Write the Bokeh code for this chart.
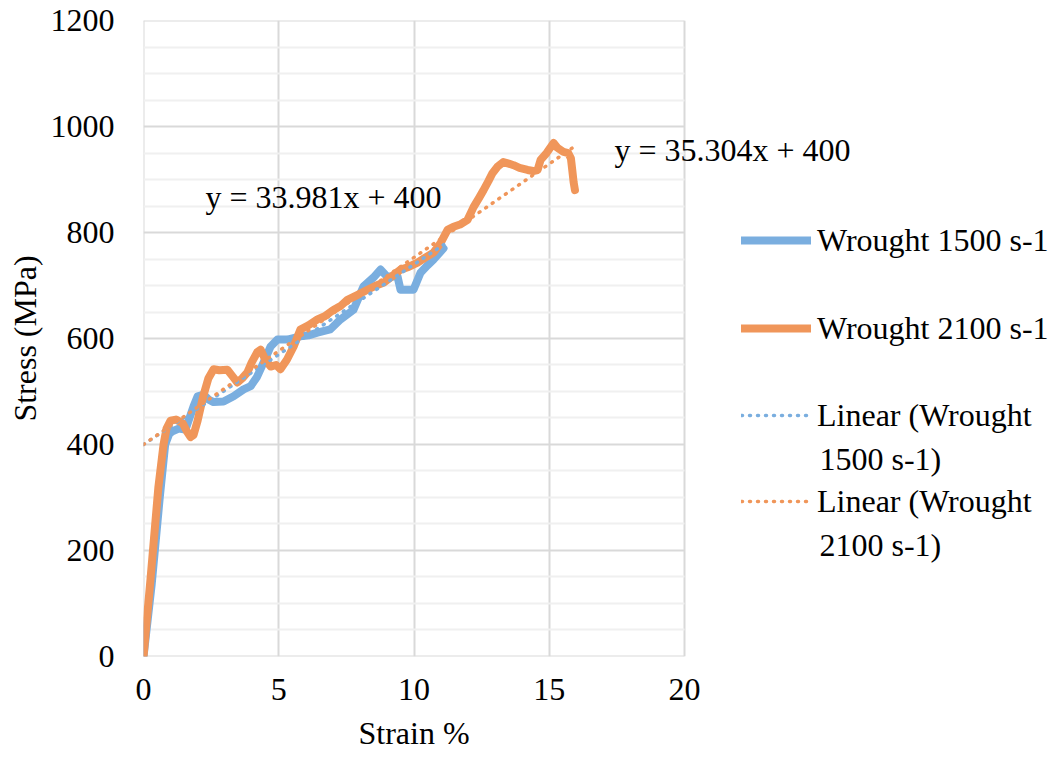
from bokeh.plotting import figure
from bokeh.models import (Range1d, FixedTicker, Legend, LegendItem, Label, Title)
from bokeh.embed import file_html
from bokeh.resources import INLINE

# ---- data -------------------------------------------------------------
strain_1500 = [0, 0.3, 0.6, 0.8, 0.95, 1.07, 1.3, 1.55, 1.7, 1.85, 2.0, 2.22,
               2.4, 2.59, 2.96, 3.33, 3.7, 3.96, 4.2, 4.44, 4.7, 4.95, 5.32,
               5.8, 6.1, 6.43, 6.9, 7.28, 7.76, 8.13, 8.5, 8.76, 9.0, 9.39,
               9.5, 9.98, 10.24, 10.5, 10.72, 11.09]
stress_1500 = [0, 135, 300, 400, 420, 425, 430, 428, 450, 472, 491, 494,
               485, 480, 481, 491, 504, 510, 528, 555, 585, 598, 598,
               604, 606, 611, 617, 636, 654, 698, 715, 730, 717, 717,
               692, 692, 724, 738, 749, 770]

strain_2100 = [0, 0.26, 0.55, 0.74, 0.85, 1.0, 1.2, 1.45, 1.6, 1.74, 1.85, 2.0,
               2.2, 2.4, 2.59, 2.8, 3.1, 3.3, 3.47, 3.65, 3.84, 4.0, 4.2, 4.33,
               4.5, 4.7, 4.9, 5.06, 5.3, 5.55, 5.8, 6.1, 6.43, 6.7, 7.02, 7.3,
               7.54, 7.9, 8.28, 8.6, 8.87, 9.2, 9.5, 9.8, 10.13, 10.4, 10.72,
               10.98, 11.24, 11.46, 11.7, 11.98, 12.2, 12.4, 12.57, 12.75, 12.9,
               13.1, 13.3, 13.5, 13.68, 13.9, 14.2, 14.4, 14.57, 14.68, 14.9,
               15.16, 15.3, 15.53, 15.7, 15.8, 15.85, 15.9, 15.95]
stress_2100 = [0, 147, 320, 400, 430, 445, 447, 440, 425, 414, 418, 445,
               490, 525, 542, 540, 541, 528, 517, 525, 536, 555, 574, 579,
               560, 547, 550, 542, 560, 585, 617, 625, 636, 642, 654, 662,
               673, 682, 692, 700, 705, 718, 730, 735, 743, 752, 762,
               780, 805, 811, 815, 824, 848, 865, 880, 897, 912,
               925, 933, 930, 927, 922, 918, 916, 918, 937, 950,
               969, 960, 952, 950, 940, 918, 895, 880]

# linear trend fits (slope, intercept) as printed on the chart
fit_1500 = (33.981, 400)
fit_2100 = (35.304, 400)
fit_range_1500 = (0, 11.1)
fit_range_2100 = (0, 16.0)

x_ticks = [0, 5, 10, 15, 20]
y_ticks = [0, 200, 400, 600, 800, 1000, 1200]
y_minor = [v for v in range(0, 1201, 50) if v % 200]

# ---- styling ----------------------------------------------------------
BLUE = "#7AAEDF"
ORANGE = "#F0965A"
FONT = "Liberation Serif"
FS = "32px"
MAJOR = "#D9D9D9"
MINOR = "#F0F0F0"

W, H = 1057, 761
LEFT, RIGHT, TOP, BOTTOM = 143, 684, 20, 658
X_MAX, Y_MAX = x_ticks[-1], y_ticks[-1]
# the frame runs to the right edge so the legend and labels stay inside it;
# the axes and grid stop at X_MAX
X_END = X_MAX * (W - LEFT) / (RIGHT - LEFT)
EPS = 1e-3

p = figure(width=W, height=H, output_backend="svg", toolbar_location=None,
           x_range=Range1d(-EPS, X_END), y_range=Range1d(-EPS * 100, Y_MAX + EPS * 100),
           min_border_left=LEFT, min_border_right=0,
           min_border_top=TOP, min_border_bottom=H - BOTTOM)
p.background_fill_color = "white"
p.border_fill_color = "white"
p.outline_line_color = None

p.xaxis.ticker = FixedTicker(ticks=x_ticks)
p.yaxis.ticker = FixedTicker(ticks=y_ticks, minor_ticks=y_minor)
p.xgrid.grid_line_color = MAJOR
p.xgrid.grid_line_width = 2
p.xgrid.minor_grid_line_color = None

manual_hgrid = False
try:
    p.ygrid.cross_bounds = (0, X_MAX)
except AttributeError:
    manual_hgrid = True

if manual_hgrid:
    p.ygrid.visible = False
    p.segment(x0=[0] * len(y_minor), x1=[X_MAX] * len(y_minor), y0=y_minor,
              y1=y_minor, line_color=MINOR, line_width=2)
    p.segment(x0=[0] * len(y_ticks), x1=[X_MAX] * len(y_ticks), y0=y_ticks,
              y1=y_ticks, line_color=MAJOR, line_width=2)
else:
    p.ygrid.grid_line_color = MAJOR
    p.ygrid.grid_line_width = 2
    p.ygrid.minor_grid_line_color = MINOR
    p.ygrid.minor_grid_line_width = 2

for ax in (p.xaxis, p.yaxis):
    ax.axis_line_color = None
    ax.major_tick_line_color = None
    ax.minor_tick_line_color = None
    ax.major_label_text_font = FONT
    ax.major_label_text_font_size = FS
    ax.major_label_text_color = "black"
    ax.axis_label_text_font = FONT
    ax.axis_label_text_font_size = FS
    ax.axis_label_text_font_style = "normal"
    ax.axis_label_text_color = "black"

p.yaxis.axis_label = "Stress (MPa)"
p.yaxis.major_label_standoff = 23
p.yaxis.axis_label_standoff = 5
p.xaxis.major_label_standoff = 16

# x-axis title, centred under the 0-20 span rather than the whole frame
X_TITLE = "Strain %"
X_TITLE_W = 111  # approximate rendered width of the title at 32px
x_title = Title(text=X_TITLE, align="left",
                offset=(RIGHT - LEFT) / 2 - X_TITLE_W / 2,
                text_font=FONT, text_font_size=FS, text_font_style="normal",
                text_color="black", standoff=21)
p.add_layout(x_title, "below")

# ---- series -----------------------------------------------------------
r1500 = p.line(strain_1500, stress_1500, line_color=BLUE, line_width=8,
               line_join="round", line_cap="round")
r2100 = p.line(strain_2100, stress_2100, line_color=ORANGE, line_width=8,
               line_join="round", line_cap="round")


def trend(fit, xr):
    m, b = fit
    return list(xr), [m * x + b for x in xr]


tx1, ty1 = trend(fit_1500, fit_range_1500)
tx2, ty2 = trend(fit_2100, fit_range_2100)
t1500 = p.line(tx1, ty1, line_color=BLUE, line_width=3.5, line_dash="1 7",
               line_cap="round")
t2100 = p.line(tx2, ty2, line_color=ORANGE, line_width=3.5, line_dash="1 7",
               line_cap="round")


# ---- equation labels --------------------------------------------------
def px_x(sx):
    return (sx - LEFT) / (RIGHT - LEFT) * X_MAX


def px_y(sy):
    return (BOTTOM - sy) / (BOTTOM - TOP) * Y_MAX


eq1 = f"y = {fit_1500[0]:.3f}x + {fit_1500[1]}"
eq2 = f"y = {fit_2100[0]:.3f}x + {fit_2100[1]}"
p.add_layout(Label(x=px_x(205), y=px_y(197), text=eq1, text_font=FONT,
                   text_font_size=FS, text_baseline="middle", text_color="black"))
p.add_layout(Label(x=px_x(614), y=px_y(150), text=eq2, text_font=FONT,
                   text_font_size=FS, text_baseline="middle", text_color="black"))

# ---- legend: one entry per block, stacked at the right ------------------
ITEM_H = 38
entries = [
    ("Wrought 1500 s-1", None, r1500, 242),
    ("Wrought 2100 s-1", None, r2100, 330),
    ("Linear (Wrought", "1500 s-1)", t1500, 417),
    ("Linear (Wrought", "2100 s-1)", t2100, 503),
]
for first, second, rend, cy in entries:
    leg = Legend(items=[LegendItem(label=first, renderers=[rend])],
                 location=(741 - LEFT, BOTTOM - cy - ITEM_H // 2),
                 glyph_width=70, glyph_height=ITEM_H, label_height=ITEM_H,
                 label_standoff=6, padding=0, margin=0,
                 border_line_color=None, background_fill_alpha=0,
                 label_text_font=FONT, label_text_font_size=FS,
                 label_text_color="black")
    p.add_layout(leg)
    if second:
        p.add_layout(Label(x=px_x(819), y=px_y(cy + 43), text=second,
                           text_font=FONT, text_font_size=FS,
                           text_baseline="middle", text_color="black"))

open("out.html", "w").write(file_html(p, INLINE))
